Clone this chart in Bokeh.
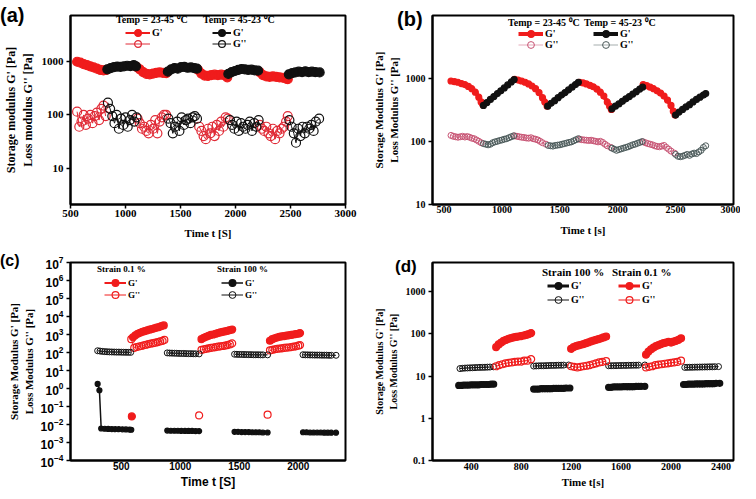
import math
from bokeh.plotting import figure
from bokeh.models import (Range1d, FixedTicker, CustomJSTickFormatter, Legend,
                          LegendItem, GridBox, Div)
from bokeh.embed import file_html
from bokeh.resources import INLINE

SERIF = "Liberation Serif"
SANS = "Liberation Sans"
RED = "#f01c1c"
BLACK = "#111111"

# ------------------------------------------------------------------ data (a)
a_heat_gp_t = [[560, 590, 620, 650, 680, 710, 740, 770, 800, 825],
               [1100, 1130, 1160, 1190, 1220, 1250, 1280, 1310, 1340, 1370],
               [1660, 1690, 1720, 1750, 1780, 1810, 1840, 1870, 1900, 1925],
               [2220, 2250, 2280, 2310, 2340, 2370, 2400, 2430, 2460, 2475]]
a_heat_gp_v = [[1000, 960, 900, 860, 820, 780, 740, 700, 690, 700],
               [800, 720, 640, 590, 580, 600, 620, 630, 620, 610],
               [700, 600, 550, 540, 560, 570, 560, 570, 560, 510],
               [640, 560, 530, 520, 530, 520, 510, 500, 480, 470]]
a_cool_gp_t = [[835, 865, 895, 925, 955, 985, 1015, 1045, 1075, 1095],
               [1385, 1415, 1445, 1475, 1505, 1535, 1565, 1595, 1625, 1650],
               [1935, 1965, 1995, 2025, 2055, 2085, 2115, 2145, 2175, 2205],
               [2485, 2515, 2545, 2575, 2605, 2635, 2665, 2695, 2725, 2765]]
a_cool_gp_v = [[720, 760, 790, 810, 800, 820, 840, 830, 860, 820],
               [650, 720, 760, 740, 790, 800, 770, 780, 760, 740],
               [590, 640, 670, 700, 730, 720, 700, 710, 690, 680],
               [580, 610, 630, 650, 640, 660, 640, 650, 640, 630]]
a_heat_gpp_t = [[560, 580, 600, 620, 640, 660, 680, 700, 720, 740, 760, 780, 800, 820],
                [1110, 1130, 1150, 1170, 1190, 1210, 1230, 1250, 1270, 1290, 1310, 1330, 1350, 1370],
                [1670, 1690, 1710, 1730, 1750, 1770, 1790, 1810, 1830, 1850, 1870, 1890, 1910, 1930],
                [2220, 2240, 2260, 2280, 2300, 2320, 2340, 2360, 2380, 2400, 2420, 2440, 2460, 2475]]
a_heat_gpp_v = [[115, 60, 75, 100, 65, 85, 100, 70, 95, 110, 80, 130, 150, 95],
                [85, 70, 55, 60, 50, 45, 65, 55, 80, 45, 75, 90, 100, 100],
                [60, 50, 40, 35, 55, 45, 60, 40, 65, 50, 75, 60, 90, 85],
                [65, 55, 50, 60, 45, 40, 55, 35, 50, 45, 55, 60, 75, 95]]
a_cool_gpp_t = [[840, 860, 880, 900, 920, 940, 960, 980, 1000, 1020, 1040, 1060, 1080, 1100],
                [1390, 1410, 1430, 1450, 1470, 1490, 1510, 1530, 1550, 1570, 1590, 1610, 1630, 1650],
                [1950, 1970, 1990, 2010, 2030, 2050, 2070, 2090, 2110, 2130, 2150, 2170, 2190, 2210],
                [2490, 2510, 2530, 2550, 2570, 2590, 2610, 2630, 2650, 2670, 2690, 2710, 2730, 2760]]
a_cool_gpp_v = [[170, 130, 95, 70, 100, 55, 85, 65, 90, 60, 80, 100, 75, 90],
                [85, 70, 45, 60, 75, 50, 90, 65, 80, 85, 70, 90, 95, 85],
                [80, 65, 55, 75, 50, 70, 60, 55, 65, 75, 50, 70, 60, 80],
                [80, 60, 45, 30, 55, 40, 60, 45, 60, 55, 65, 50, 75, 85]]

# ------------------------------------------------------------------ data (b)
b_heat_gp_t = [[560, 590, 620, 650, 680, 710, 740, 770, 800, 820, 835],
               [1110, 1140, 1170, 1200, 1230, 1260, 1290, 1320, 1350, 1370, 1390],
               [1670, 1700, 1730, 1760, 1790, 1820, 1850, 1880, 1910, 1930, 1945],
               [2220, 2250, 2280, 2310, 2340, 2370, 2400, 2430, 2460, 2480, 2495]]
b_heat_gp_v = [[900, 880, 860, 820, 790, 740, 680, 600, 500, 420, 380],
               [960, 930, 900, 860, 810, 750, 680, 590, 490, 420, 360],
               [860, 840, 810, 770, 730, 670, 600, 520, 420, 360, 320],
               [790, 760, 720, 680, 630, 580, 520, 450, 370, 300, 260]]
b_cool_gp_t = [[840, 870, 900, 930, 960, 990, 1020, 1050, 1080, 1105],
               [1395, 1425, 1455, 1485, 1515, 1545, 1575, 1605, 1635, 1660],
               [1950, 1980, 2010, 2040, 2070, 2100, 2130, 2160, 2190, 2215],
               [2500, 2530, 2560, 2590, 2620, 2650, 2680, 2710, 2740, 2760]]
b_cool_gp_v = [[370, 410, 460, 510, 570, 630, 700, 780, 870, 950],
               [360, 400, 440, 490, 540, 590, 650, 720, 790, 860],
               [325, 360, 390, 430, 470, 510, 560, 610, 670, 720],
               [260, 290, 320, 350, 380, 420, 460, 500, 540, 570]]
b_heat_gpp_t = [[560, 580, 600, 620, 640, 660, 680, 700, 720, 740, 760, 780, 800, 820],
                [1110, 1130, 1150, 1170, 1190, 1210, 1230, 1250, 1270, 1290, 1310, 1330, 1350, 1380],
                [1670, 1690, 1710, 1730, 1750, 1770, 1790, 1810, 1830, 1850, 1870, 1890, 1910, 1940],
                [2220, 2240, 2260, 2280, 2300, 2320, 2340, 2360, 2380, 2400, 2420, 2440, 2460, 2490]]
b_heat_gpp_v = [[124, 120, 118, 116, 118, 120, 117, 119, 116, 112, 110, 105, 100, 95],
                [122, 120, 118, 116, 115, 113, 112, 114, 110, 108, 105, 100, 95, 90],
                [108, 106, 105, 104, 103, 104, 102, 100, 98, 100, 96, 90, 85, 80],
                [98, 95, 92, 90, 88, 85, 83, 82, 84, 86, 80, 75, 70, 65]]
b_cool_gpp_t = [[840, 860, 880, 900, 920, 940, 960, 980, 1000, 1020, 1040, 1060, 1080, 1100],
                [1400, 1420, 1440, 1460, 1480, 1500, 1520, 1540, 1560, 1580, 1600, 1620, 1640, 1660],
                [1950, 1970, 1990, 2010, 2030, 2050, 2070, 2090, 2110, 2130, 2150, 2170, 2190, 2210],
                [2500, 2520, 2540, 2560, 2580, 2600, 2620, 2640, 2660, 2680, 2700, 2720, 2740, 2760]]
b_cool_gpp_v = [[92, 90, 88, 90, 95, 98, 100, 103, 105, 108, 110, 114, 118, 122],
                [86, 85, 84, 86, 87, 88, 90, 92, 94, 96, 98, 102, 106, 110],
                [78, 75, 72, 74, 76, 78, 80, 82, 85, 88, 90, 93, 96, 99],
                [62, 58, 57, 58, 60, 62, 60, 63, 65, 64, 68, 72, 80, 85]]

# ------------------------------------------------------------------ data (c)
c_s100_gp_t = [[300, 315, 330, 360, 390, 420, 450, 480, 510, 540, 570, 585],
               [890, 920, 950, 980, 1010, 1040, 1070, 1100, 1130, 1160],
               [1460, 1490, 1520, 1550, 1580, 1610, 1640, 1670, 1700, 1740],
               [2040, 2070, 2100, 2130, 2160, 2190, 2220, 2250, 2280, 2320]]
c_s100_gp_v = [[1.8, 0.8, 0.006, 0.0058, 0.0057, 0.0056, 0.0055, 0.0055, 0.0054, 0.0053, 0.0052, 0.0051],
               [0.0046, 0.0045, 0.0045, 0.0045, 0.0044, 0.0044, 0.0044, 0.0044, 0.0043, 0.0043],
               [0.0039, 0.0039, 0.0038, 0.0038, 0.0038, 0.0037, 0.0037, 0.0037, 0.0036, 0.0036],
               [0.0037, 0.0037, 0.0036, 0.0036, 0.0036, 0.0036, 0.0035, 0.0035, 0.0035, 0.0035]]
c_s100_gpp_t = [[300, 320, 340, 360, 380, 400, 420, 440, 460, 480, 500, 520, 540, 560, 580],
                [890, 910, 930, 950, 970, 990, 1010, 1030, 1050, 1070, 1090, 1110, 1130, 1160],
                [1460, 1480, 1500, 1520, 1540, 1560, 1580, 1600, 1620, 1640, 1660, 1680, 1700, 1740],
                [2040, 2060, 2080, 2100, 2120, 2140, 2160, 2180, 2200, 2220, 2240, 2260, 2280, 2320]]
c_s100_gpp_v = [[125, 120, 115, 112, 110, 108, 107, 106, 105, 105, 104, 103, 103, 102, 102],
                [95, 93, 92, 91, 90, 89, 88, 88, 87, 86, 86, 85, 85, 84],
                [80, 79, 78, 78, 77, 77, 76, 76, 75, 75, 75, 74, 74, 74],
                [75, 74, 74, 73, 73, 72, 72, 72, 71, 71, 71, 70, 70, 70]]
c_s01_gp_t = [[590],
              [600, 620, 640, 660, 680, 700, 720, 740, 760, 780, 800, 820, 840, 860],
              [1180, 1200, 1220, 1240, 1260, 1280, 1300, 1320, 1340, 1360, 1380, 1400, 1420, 1440],
              [1760, 1780, 1800, 1820, 1840, 1860, 1880, 1900, 1920, 1940, 1960, 1980, 2000, 2015]]
c_s01_gp_v = [[0.028],
              [700, 900, 1100, 1250, 1400, 1550, 1700, 1850, 2000, 2200, 2400, 2600, 2900, 3200],
              [550, 650, 750, 850, 950, 1000, 1100, 1200, 1300, 1400, 1500, 1600, 1750, 1900],
              [450, 550, 620, 680, 740, 780, 820, 860, 900, 950, 1000, 1050, 1100, 1200]]
c_s01_gpp_t = [[585, 610, 630, 650, 670, 690, 710, 730, 750, 770, 790, 810, 830, 850, 865],
               [1160],
               [1180, 1200, 1220, 1240, 1260, 1280, 1300, 1320, 1340, 1360, 1380, 1400, 1420, 1440],
               [1740],
               [1760, 1780, 1800, 1820, 1840, 1860, 1880, 1900, 1920, 1940, 1960, 1980, 2000, 2015]]
c_s01_gpp_v = [[550, 180, 200, 215, 230, 250, 270, 290, 310, 330, 350, 380, 410, 440, 500],
               [0.032],
               [140, 150, 160, 170, 180, 190, 200, 210, 220, 230, 240, 260, 280, 320],
               [0.035],
               [130, 140, 150, 160, 165, 170, 180, 185, 190, 200, 210, 220, 240, 260]]

# ------------------------------------------------------------------ data (d)
d_s100_gp_t = [[300, 320, 340, 360, 380, 400, 420, 440, 460, 480, 500, 520, 540, 560, 580],
               [900, 920, 940, 960, 980, 1000, 1020, 1040, 1060, 1080, 1100, 1120, 1140, 1160, 1190],
               [1500, 1520, 1540, 1560, 1580, 1600, 1620, 1640, 1660, 1680, 1700, 1720, 1740, 1760, 1790],
               [2100, 2120, 2140, 2160, 2180, 2200, 2220, 2240, 2260, 2280, 2300, 2320, 2340, 2360, 2390]]
d_s100_gp_v = [[6.0, 6.0, 6.1, 6.1, 6.1, 6.2, 6.2, 6.2, 6.2, 6.3, 6.3, 6.3, 6.3, 6.4, 6.4],
               [4.9, 4.9, 4.9, 5.0, 5.0, 5.0, 5.0, 5.0, 5.1, 5.1, 5.1, 5.1, 5.1, 5.2, 5.2],
               [5.4, 5.4, 5.5, 5.5, 5.5, 5.5, 5.6, 5.6, 5.6, 5.6, 5.6, 5.7, 5.7, 5.7, 5.7],
               [6.3, 6.3, 6.4, 6.4, 6.4, 6.5, 6.5, 6.5, 6.5, 6.6, 6.6, 6.6, 6.6, 6.7, 6.7]]
d_s100_gpp_t = [[310, 330, 350, 370, 390, 410, 430, 450, 470, 490, 510, 530, 550, 580],
                [900, 920, 940, 960, 980, 1000, 1020, 1040, 1060, 1080, 1100, 1120, 1140, 1180],
                [1500, 1520, 1540, 1560, 1580, 1600, 1620, 1640, 1660, 1680, 1700, 1720, 1740, 1790],
                [2110, 2130, 2150, 2170, 2190, 2210, 2230, 2250, 2270, 2290, 2310, 2330, 2350, 2380]]
d_s100_gpp_v = [[15, 15.2, 15.4, 15.5, 15.6, 15.7, 15.8, 15.9, 16, 16, 16.1, 16.2, 16.3, 16.5],
                [17.2, 17.3, 17.4, 17.5, 17.5, 17.6, 17.7, 17.8, 17.8, 17.9, 18, 18, 18.1, 18.2],
                [17.5, 17.5, 17.6, 17.6, 17.7, 17.7, 17.8, 17.8, 17.9, 17.9, 18, 18, 18.1, 18.2],
                [16, 16, 16.1, 16.1, 16.2, 16.2, 16.3, 16.3, 16.4, 16.4, 16.5, 16.5, 16.6, 16.7]]
d_s01_gp_t = [[600, 620, 640, 660, 680, 700, 720, 740, 760, 780, 800, 820, 840, 860, 880],
              [1200, 1220, 1240, 1260, 1280, 1300, 1320, 1340, 1360, 1380, 1400, 1420, 1440, 1460, 1480],
              [1800, 1820, 1840, 1860, 1880, 1900, 1920, 1940, 1960, 1980, 2000, 2020, 2040, 2060, 2080]]
d_s01_gp_v = [[48, 56, 62, 68, 72, 76, 79, 82, 84, 86, 88, 91, 94, 98, 104],
              [44, 48, 51, 53, 55, 57, 60, 63, 66, 69, 72, 75, 78, 82, 86],
              [32, 38, 43, 47, 51, 54, 57, 60, 62, 64, 62, 65, 68, 72, 78]]
d_s01_gpp_t = [[600, 625, 650, 675, 700, 725, 750, 775, 800, 825, 850, 880],
               [1200, 1225, 1250, 1275, 1300, 1325, 1350, 1375, 1400, 1425, 1450, 1480],
               [1800, 1825, 1850, 1875, 1900, 1925, 1950, 1975, 2000, 2025, 2050, 2080]]
d_s01_gpp_v = [[17, 18, 19, 20, 20.5, 21, 21.5, 22, 22, 23, 23, 25],
               [17, 16.5, 16, 16.5, 17, 17.5, 18, 19, 20, 21, 21.5, 22.5],
               [16, 16.5, 17, 18, 18.5, 19, 19.5, 20, 20.5, 21, 21.5, 23]]

# ------------------------------------------------------------------ ticks
a_xticks = [500, 1000, 1500, 2000, 2500, 3000]
a_yticks = [10, 100, 1000]
b_xticks = [500, 1000, 1500, 2000, 2500, 3000]
b_yticks = [10, 100, 1000]
c_xticks = [500, 1000, 1500, 2000]
c_yticks = [1e-4, 1e-3, 1e-2, 1e-1, 1, 10, 100, 1e3, 1e4, 1e5, 1e6, 1e7]
d_xticks = [400, 800, 1200, 1600, 2000, 2400]
d_yticks = [0.1, 1, 10, 100, 1000]


def joined(segs):
    out = []
    for i, s in enumerate(segs):
        if i:
            out.append(float("nan"))
        out.extend(s)
    return out


def add_series(p, tsegs, vsegs, color, filled, size, lw, mlw=1.2):
    t = joined(tsegs)
    v = joined(vsegs)
    rl = p.line(t, v, line_color=color, line_width=lw)
    rs = p.scatter(t, v, marker="circle", size=size, line_color=color,
                   line_width=mlw, fill_color=color if filled else None)
    return [rl, rs]


PLAIN = CustomJSTickFormatter(code="return tick.toString()")


def make_panel(w, h, borders, xr, yr, xticks, yticks, tick_font, tick_size,
               xlabel, xl_font, xl_size, ylabel, yl_size, plain_y=True,
               xtick_out=4, xls=1, xas=2, yas=4):
    left, right, top, bottom = borders
    p = figure(width=w, height=h, x_range=Range1d(*xr), y_range=Range1d(*yr),
               y_axis_type="log", output_backend="svg", toolbar_location=None,
               title=None,
               min_border_left=left, min_border_right=right,
               min_border_top=top, min_border_bottom=bottom)
    p.grid.visible = False
    p.outline_line_color = "black"
    p.outline_line_width = 2
    p.outline_line_alpha = 1
    for ax in (p.xaxis[0], p.yaxis[0]):
        ax.axis_line_width = 2
        ax.axis_line_color = "black"
        ax.major_tick_line_width = 1.5
        ax.major_tick_in = 0
        ax.major_tick_out = 4
        ax.minor_tick_line_color = None
        ax.minor_tick_in = 0
        ax.minor_tick_out = 0
        ax.major_label_text_font = tick_font
        ax.major_label_text_font_size = tick_size
        ax.major_label_text_font_style = "bold"
        ax.major_label_text_color = "black"
        ax.axis_label_text_font_style = "bold"
        ax.axis_label_text_color = "black"
    p.xaxis[0].major_tick_out = xtick_out
    p.xaxis[0].ticker = FixedTicker(ticks=xticks)
    p.yaxis[0].ticker = FixedTicker(ticks=yticks)
    if plain_y:
        p.yaxis[0].formatter = PLAIN
    p.xaxis[0].axis_label = xlabel
    p.xaxis[0].axis_label_text_font = xl_font
    p.xaxis[0].axis_label_text_font_size = xl_size
    p.xaxis[0].major_label_standoff = xls
    p.xaxis[0].axis_label_standoff = xas
    p.yaxis[0].axis_label = ylabel
    p.yaxis[0].axis_label_text_font = SERIF
    p.yaxis[0].axis_label_text_font_size = yl_size
    p.yaxis[0].major_label_standoff = 3
    p.yaxis[0].axis_label_standoff = yas
    return p


def style_legend(leg, size, font, gh, gw=26, standoff=2):
    leg.background_fill_alpha = 0
    leg.border_line_alpha = 0
    leg.padding = 0
    leg.margin = 0
    leg.spacing = 0
    leg.glyph_width = gw
    leg.glyph_height = gh
    leg.label_height = gh
    leg.label_standoff = standoff
    leg.label_text_font = font
    leg.label_text_font_style = "bold"
    leg.label_text_font_size = size
    leg.label_text_color = "black"
    leg.label_text_baseline = "middle"


def ghost(p, tsegs, vsegs):
    # invisible renderer: lets a legend entry show text only
    return [p.line(joined(tsegs), joined(vsegs), line_alpha=0)]


def text_entry(p, g, text, x, y, size, font, gh):
    leg = Legend(items=[LegendItem(label=text, renderers=g)], location=(x, y))
    style_legend(leg, size, font, gh, gw=1, standoff=0)
    p.add_layout(leg)


def add_group(p, g, title, items, hx, hy, gx, ya, yb, title_size, label_size,
              font=SERIF, gw=25):
    text_entry(p, g, title, hx, hy, title_size, font, 12)
    for (lab, r), y in zip(items, (ya, yb)):
        leg = Legend(items=[LegendItem(label=lab, renderers=r)], location=(gx, y))
        style_legend(leg, label_size, font, 17, gw=gw)
        p.add_layout(leg)


def tag(text, size, top, left):
    return Div(text=text, width=40, height=28, margin=(top, 0, 0, left),
               styles={"font-family": SANS, "font-size": size,
                       "font-weight": "bold", "line-height": "1",
                       "color": "black"})


YL_A = "Storage modulus G' [Pa]\nLoss modulus G'' [Pa]"
YL_B = "Storage Modulus G' [Pa]\nLoss Modulus G'' [Pa]"

# ------------------------------------------------------------------ panel (a)
pa = make_panel(370, 250, (62, 21, 12, 46), (500, 3000), (2.07, 7400),
                a_xticks, a_yticks, SERIF, "11px", "Time t [S]", SERIF, "11px",
                YL_A, "12px", xls=1, xas=7)
ga = ghost(pa, a_heat_gp_t, a_heat_gp_v)
ra_hgp = add_series(pa, a_heat_gp_t, a_heat_gp_v, RED, True, 9, 2)
ra_cgp = add_series(pa, a_cool_gp_t, a_cool_gp_v, BLACK, True, 9, 2)
ra_hgpp = add_series(pa, a_heat_gpp_t, a_heat_gpp_v, "#e02a36", False, 9, 1)
ra_cgpp = add_series(pa, a_cool_gpp_t, a_cool_gpp_v, BLACK, False, 9, 1)
add_group(pa, ga, "Temp = 23-45 \u2070C", [("G'", ra_hgp), (" ", ra_hgpp)],
          45, 178, 55, 163, 152, "10px", "10px")
add_group(pa, ga, "Temp = 45-23 \u2070C", [("G'", ra_cgp), ("G''", ra_cgpp)],
          132, 178, 142, 163, 152, "10px", "10px", gw=19)

# ------------------------------------------------------------------ panel (b)
pb = make_panel(370, 250, (61, 7, 15, 45), (400, 3000), (10, 9800),
                b_xticks, b_yticks, SERIF, "10px", "Time t [s]", SERIF, "11px",
                YL_B, "11px", xtick_out=0, xls=1, xas=8, yas=3)
gb = ghost(pb, b_heat_gp_t, b_heat_gp_v)
rb_hgp = add_series(pb, b_heat_gp_t, b_heat_gp_v, RED, True, 6, 4)
rb_cgp = add_series(pb, b_cool_gp_t, b_cool_gp_v, BLACK, True, 6, 4)
rb_hgpp = add_series(pb, b_heat_gpp_t, b_heat_gpp_v, "#c85474", False, 6, 0.5, 1)
rb_cgpp = add_series(pb, b_cool_gpp_t, b_cool_gpp_v, "#4b5a5a", False, 6, 0.5, 1)
add_group(pb, gb, "Temp = 23-45 \u2070C", [("G'", rb_hgp), ("G''", rb_hgpp)],
          75, 175, 86, 162, 151, "10px", "10px")
add_group(pb, gb, "Temp = 45-23 \u2070C", [("G'", rb_cgp), ("G''", rb_cgpp)],
          151, 175, 161, 162, 151, "10px", "10px")

# ------------------------------------------------------------------ panel (c)
pc = make_panel(370, 241, (68, 25, 6, 29), (70, 2400), (1e-4, 1e7),
                c_xticks, c_yticks, SANS, "10px", "Time t [S]", SANS, "12px",
                YL_B, "11px", plain_y=False, xtick_out=0, xls=1, xas=2, yas=3)
pc.yaxis[0].major_label_text_font_size = "12px"
gc = ghost(pc, c_s100_gpp_t, c_s100_gpp_v)
rc_s01gp = add_series(pc, c_s01_gp_t, c_s01_gp_v, RED, True, 7, 2)
rc_s01gpp = add_series(pc, c_s01_gpp_t, c_s01_gpp_v, RED, False, 7, 1)
rc_s100gpp = add_series(pc, c_s100_gpp_t, c_s100_gpp_v, BLACK, False, 6, 1, 1)
rc_s100gp = add_series(pc, c_s100_gp_t, c_s100_gp_v, BLACK, True, 5, 1.5)
add_group(pc, gc, "Strain 0.1 %", [("G'", rc_s01gp), ("G''", rc_s01gpp)],
          26, 185, 34, 169, 157, "9px", "9px", gw=22)
add_group(pc, gc, "Strain 100 %", [("G'", rc_s100gp), ("G''", rc_s100gpp)],
          146, 185, 151, 169, 157, "9px", "9px", gw=22)

# ------------------------------------------------------------------ panel (d)
pd = make_panel(370, 241, (53, 1, 12, 30), (90, 2500), (0.1, 4860),
                d_xticks, d_yticks, SERIF, "10px", "Time t[s]", SERIF, "11px",
                YL_B, "10px", xtick_out=0, xls=2, xas=3)
gd = ghost(pd, d_s100_gp_t, d_s100_gp_v)
rd_s100gp = add_series(pd, d_s100_gp_t, d_s100_gp_v, BLACK, True, 6, 3)
rd_s100gpp = add_series(pd, d_s100_gpp_t, d_s100_gpp_v, BLACK, False, 6, 1, 1)
rd_s01gp = add_series(pd, d_s01_gp_t, d_s01_gp_v, RED, True, 7, 3)
rd_s01gpp = add_series(pd, d_s01_gpp_t, d_s01_gpp_v, RED, False, 7, 1, 1.2)
add_group(pd, gd, "Strain 100 %", [("G'", rd_s100gp), ("G''", rd_s100gpp)],
          109, 182, 115, 166, 152, "11px", "10px", gw=22)
add_group(pd, gd, "Strain 0.1 %", [("G'", rd_s01gp), ("G''", rd_s01gpp)],
          179, 182, 186, 166, 152, "11px", "10px", gw=22)

# ------------------------------------------------------------------ layout
grid = GridBox(children=[
    (pa, 0, 0), (pb, 0, 1), (pc, 1, 0), (pd, 1, 1),
    (tag("(a)", "20px", 5, 0), 0, 0),
    (tag("(b)", "20px", 9, 27), 0, 1),
    (tag("(c)", "16px", 3, 0), 1, 0),
    (tag("(d)", "17px", 8, 25), 1, 1),
], spacing=0)
open("out.html", "w").write(file_html(grid, INLINE))
